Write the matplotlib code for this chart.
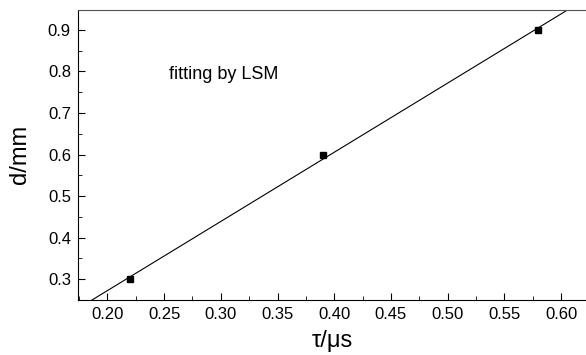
import numpy as np
import matplotlib
matplotlib.use("Agg")
import matplotlib.pyplot as plt
from matplotlib.ticker import MultipleLocator, FormatStrFormatter

plt.rcParams['font.family'] = ['Liberation Sans', 'DejaVu Sans']

tau = [0.22, 0.39, 0.58]
d = [0.30, 0.60, 0.90]

fig = plt.figure(figsize=(5.86, 3.55), dpi=100)
ax = fig.add_axes([0.133, 0.155, 0.867, 0.818])

coef = np.polyfit(tau, d, 1)
xs = np.array([0.17, 0.63])
ax.plot(xs, np.polyval(coef, xs), color='black', lw=0.8)
ax.plot(tau, d, 's', color='black', ms=5)

ax.set_xlim(0.174, 0.622)
ax.set_ylim(0.25, 0.949)
ax.xaxis.set_major_locator(MultipleLocator(0.05))
ax.xaxis.set_minor_locator(MultipleLocator(0.025))
ax.yaxis.set_major_locator(MultipleLocator(0.1))
ax.yaxis.set_minor_locator(MultipleLocator(0.05))
ax.xaxis.set_major_formatter(FormatStrFormatter('%.2f'))
ax.yaxis.set_major_formatter(FormatStrFormatter('%.1f'))
ax.tick_params(which='both', direction='in', labelsize=12)
ax.tick_params(which='major', length=5, pad=5)
ax.tick_params(which='minor', length=3)
ax.tick_params(top=False, right=False)
ax.spines['right'].set_visible(False)
ax.spines['top'].set_color('#555555')

ax.set_xlabel('τ/μs', fontsize=17, labelpad=6)
ax.set_ylabel('d/mm', fontsize=17, labelpad=12)
ax.text(0.254, 0.792, 'fitting by LSM', fontsize=13, va='center', ha='left')

fig.savefig('out.png', dpi=100)
